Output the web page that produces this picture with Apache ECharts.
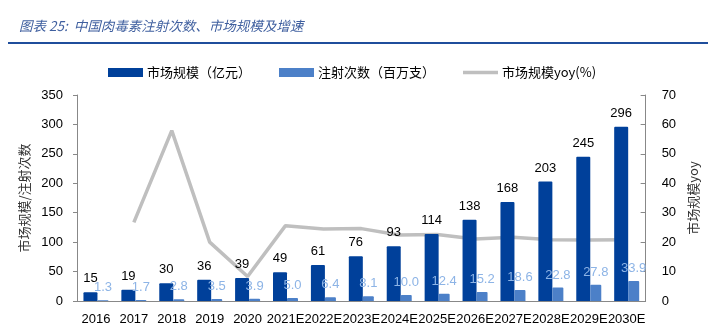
<!DOCTYPE html>
<html><head><meta charset="utf-8">
<script src="https://cdn.jsdelivr.net/npm/echarts@6/dist/echarts.min.js"></script>
<style>html,body{margin:0;padding:0;background:#fff}#c{width:708px;height:328px}</style>
</head><body><div id="c"></div>
<script>
const categories = ['2016','2017','2018','2019','2020','2021E','2022E','2023E','2024E','2025E','2026E','2027E','2028E','2029E','2030E'];
const marketSize = [15,19,30,36,39,49,61,76,93,114,138,168,203,245,296];
const injections = [1.3,1.7,2.8,3.5,3.9,5.0,6.4,8.1,10.0,12.4,15.2,18.6,22.8,27.8,33.9];
const yoy = [null,26.7,57.9,20.0,8.3,25.6,24.5,24.6,22.4,22.6,21.1,21.7,20.8,20.7,20.8];
const leftTicks = [0,350,50];
const rightTicks = [0,70,10];

const FONT = "'Liberation Sans','Noto Sans CJK SC',sans-serif";
const CJK = "'Noto Sans CJK SC',sans-serif";
const chart = echarts.init(document.getElementById('c'), null, {renderer:'canvas'});
chart.setOption({
  animation:false,
  textStyle:{fontFamily:FONT},
  graphic:[
    {type:'text', left:19, top:19, style:{text:'图表 25:  中国肉毒素注射次数、市场规模及增速', fontFamily:CJK, fontSize:13.5, fontStyle:'italic', fill:'#3F5F9F'}},
    {type:'rect', shape:{x:8, y:42, width:700, height:2}, style:{fill:'#1F4E9C'}}
  ],
  legend:{
    left:108, top:66, padding:0, itemWidth:35, itemHeight:9, itemGap:28,
    textStyle:{fontSize:13, color:'#000', fontFamily:CJK, padding:[0,0,0,-1]},
    data:[
      {name:'市场规模（亿元）', icon:'rect'},
      {name:'注射次数（百万支）', icon:'rect'},
      {name:'市场规模yoy(%)', icon:'path://M0,0 L100,0 L100,10 L0,10 Z'}
    ]
  },
  grid:{left:77, right:56, top:95, bottom:27},
  xAxis:{
    type:'category', data:categories,
    axisLine:{lineStyle:{color:'#888', width:1}},
    axisTick:{show:false},
    axisLabel:{color:'#000', fontSize:13, margin:12, interval:0, fontFamily:FONT}
  },
  yAxis:[
    {type:'value', min:leftTicks[0], max:leftTicks[1], interval:leftTicks[2],
     name:'市场规模/注射次数', nameLocation:'middle', nameRotate:90, nameGap:39,
     nameTextStyle:{fontSize:13, color:'#333', fontFamily:CJK},
     axisLine:{show:true, lineStyle:{color:'#888'}},
     axisTick:{show:true, length:4, lineStyle:{color:'#888'}},
     splitLine:{show:false},
     axisLabel:{color:'#000', fontSize:13, margin:14, fontFamily:FONT}},
    {type:'value', min:rightTicks[0], max:rightTicks[1], interval:rightTicks[2], position:'right',
     name:'市场规模yoy', nameLocation:'middle', nameRotate:90, nameGap:22,
     nameTextStyle:{fontSize:13, color:'#333', fontFamily:CJK},
     axisLine:{show:true, lineStyle:{color:'#888'}},
     axisTick:{show:true, inside:true, length:5, lineStyle:{color:'#888'}},
     splitLine:{show:false},
     axisLabel:{color:'#000', fontSize:13, margin:16, fontFamily:FONT}}
  ],
  series:[
    {name:'市场规模（亿元）', type:'bar', data:marketSize, barWidth:14, barGap:'0%',
     itemStyle:{color:'#00409A', borderRadius:[1,1,0,0]},
     label:{show:true, position:'top', distance:7, color:'#000', fontSize:13, fontFamily:FONT}},
    {name:'注射次数（百万支）', type:'bar', data:injections, barWidth:11, barGap:'0%',
     itemStyle:{color:'#4C80C8', borderRadius:[1,1,0,0]},
     label:{show:true, position:'top', distance:6, color:'#8DB4E6', fontSize:13, fontFamily:FONT,
            formatter:p=>p.value.toFixed(1)}},
    {name:'市场规模yoy(%)', type:'line', yAxisIndex:1, data:yoy, symbol:'none', connectNulls:false,
     lineStyle:{color:'#BFBFBF', width:3.5}, itemStyle:{color:'#BFBFBF'}, z:1}
  ]
});
</script></body></html>
